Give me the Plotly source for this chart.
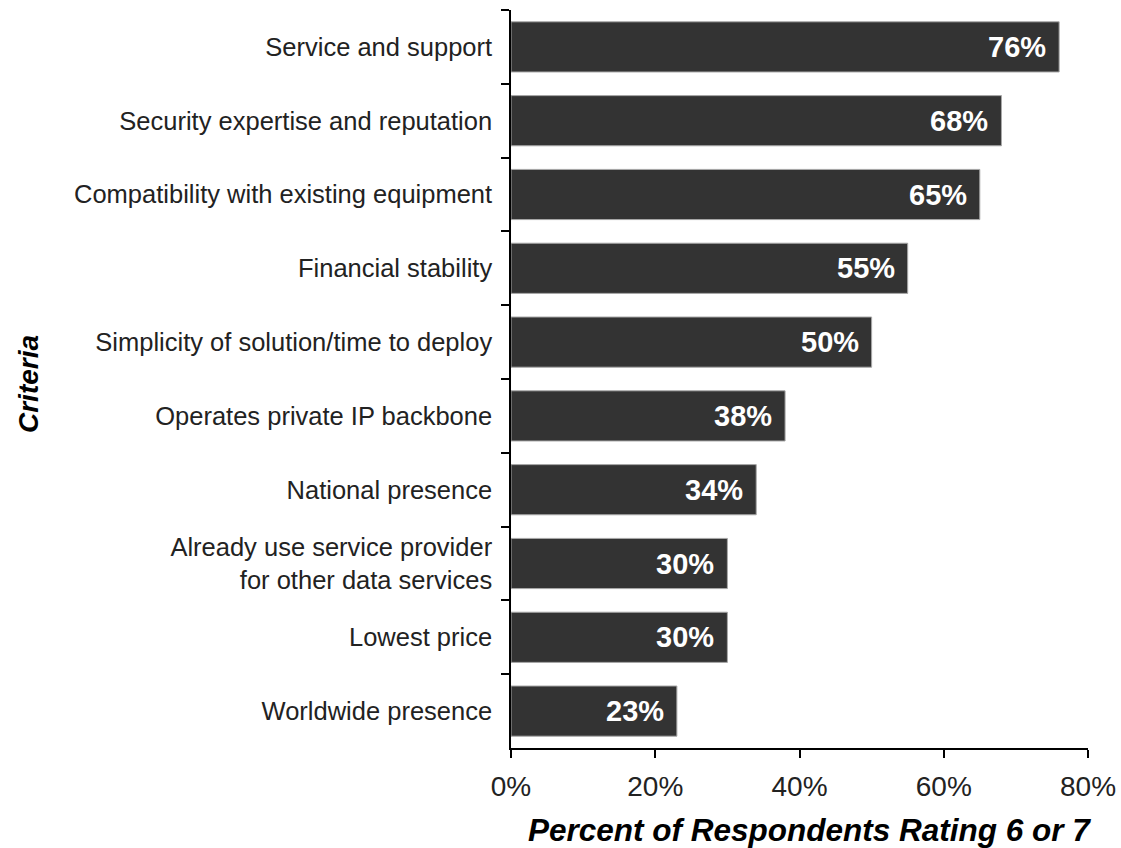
import plotly.graph_objects as go

# Survey results: share of respondents rating each criterion 6 or 7
criteria = [
    "Service and support",
    "Security expertise and reputation",
    "Compatibility with existing equipment",
    "Financial stability",
    "Simplicity of solution/time to deploy",
    "Operates private IP backbone",
    "National presence",
    "Already use service provider<br>for other data services",
    "Lowest price",
    "Worldwide presence",
]
percent = [76, 68, 65, 55, 50, 38, 34, 30, 30, 23]
x_ticks = [0, 20, 40, 60, 80]
x_tick_text = ["0%", "20%", "40%", "60%", "80%"]

FONT = "Liberation Sans, Arial, sans-serif"

fig = go.Figure()
fig.add_trace(go.Bar(
    x=percent,
    y=criteria,
    orientation="h",
    marker=dict(color="#333333", line=dict(color="#a8a8a8", width=1)),
    hoverinfo="skip",
))

# Value labels inside the bar ends
for cat, val in zip(criteria, percent):
    fig.add_annotation(
        x=val, y=cat, xref="x", yref="y",
        text=f"<b>{val}%</b>", showarrow=False,
        xanchor="right", xshift=-11,
        font=dict(family=FONT, size=29, color="white"),
    )

# Rotated vertical-axis title
fig.add_annotation(
    x=0, y=0.5, xref="paper", yref="paper",
    xanchor="center", yanchor="middle", xshift=-483, yshift=-5,
    text="<b><i>Criteria</i></b>", textangle=-90, showarrow=False,
    font=dict(family=FONT, size=28, color="black"),
)

# Horizontal-axis title below the tick labels
fig.add_annotation(
    x=0.5, y=0, xref="paper", yref="paper",
    xanchor="center", yanchor="middle", xshift=10, yshift=-82,
    text="<b><i>Percent of Respondents Rating 6 or 7</i></b>", showarrow=False,
    font=dict(family=FONT, size=31.5, color="black"),
)

fig.update_layout(
    width=1121, height=848,
    margin=dict(l=511, r=33, t=10, b=100),
    paper_bgcolor="white", plot_bgcolor="white",
    showlegend=False,
    bargap=0.32,
    font=dict(family=FONT, color="#222222"),
    xaxis=dict(
        range=[0, 80], tickvals=x_ticks, ticktext=x_tick_text,
        automargin=False,
        showgrid=False, zeroline=False,
        showline=True, linecolor="black", linewidth=1.5,
        ticks="outside", ticklen=8, tickcolor="black", tickwidth=1.5,
        tickfont=dict(family=FONT, size=28, color="#222222"),
        ticklabelstandoff=5,
    ),
    yaxis=dict(
        autorange="reversed",
        automargin=False,
        showgrid=False, zeroline=False,
        showline=True, linecolor="black", linewidth=1.5,
        ticks="outside", tickson="boundaries", ticklen=8,
        tickcolor="black", tickwidth=1.5,
        tickfont=dict(family=FONT, size=25.5, color="#222222"),
        ticklabelstandoff=12,
    ),
)

fig.write_html("out.html")
